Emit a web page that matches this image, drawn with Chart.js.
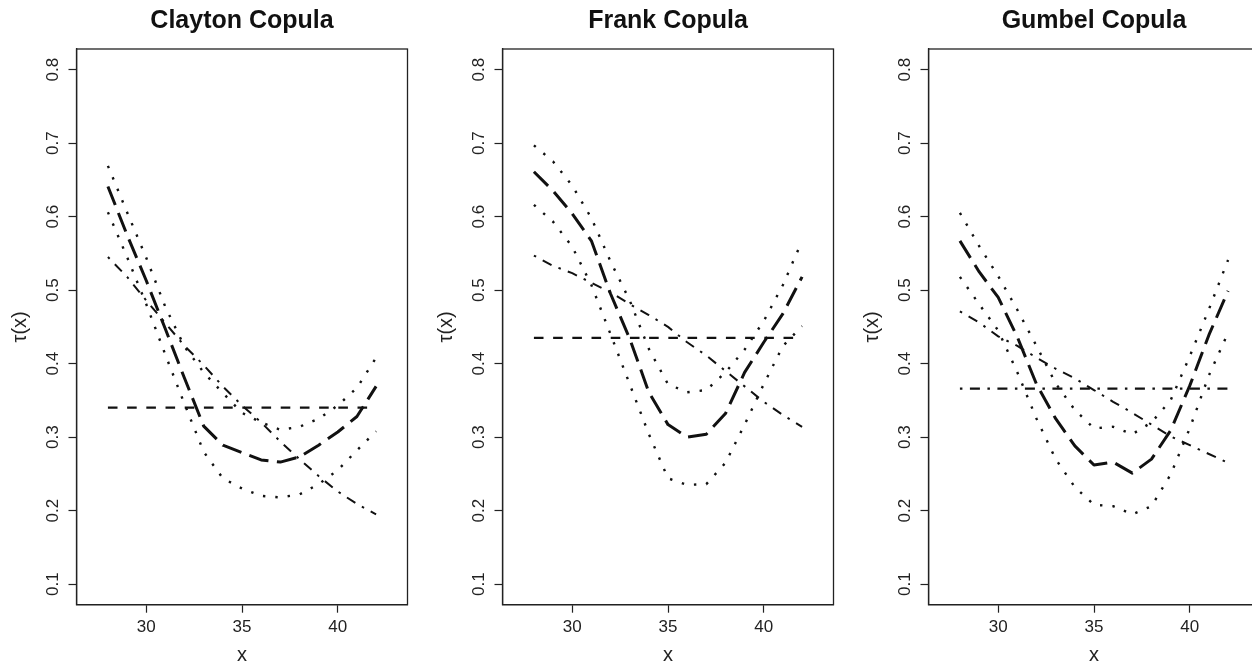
<!DOCTYPE html>
<html>
<head>
<meta charset="utf-8">
<script src="https://cdn.jsdelivr.net/npm/chart.js@4.4.1/dist/chart.umd.min.js"></script>
<style>
  html, body { margin: 0; padding: 0; background: #fff; overflow: hidden; }
  #wrap { position: relative; width: 1252px; height: 665px; overflow: hidden; }
  .panel { position: absolute; top: 0; width: 426px; height: 665px; }
</style>
</head>
<body>
<div id="wrap">
  <div class="panel" style="left:0px"><canvas id="clayton" width="426" height="665"></canvas></div>
  <div class="panel" style="left:426px"><canvas id="frank" width="426" height="665"></canvas></div>
  <div class="panel" style="left:852px"><canvas id="gumbel" width="426" height="665"></canvas></div>
</div>
<script>
// data
const xValues = [28, 29, 30, 31, 32, 33, 34, 35, 36, 37, 38, 39, 40, 41, 42];
const xTicks = [30, 35, 40];
const yTicks = [0.1, 0.2, 0.3, 0.4, 0.5, 0.6, 0.7, 0.8];
const yTickLabels = ['0.1', '0.2', '0.3', '0.4', '0.5', '0.6', '0.7', '0.8'];

const claytonEst   = [0.641, 0.575, 0.513, 0.447, 0.380, 0.315, 0.289, 0.279, 0.269, 0.266, 0.273, 0.289, 0.307, 0.328, 0.369];
const claytonUpper = [0.669, 0.606, 0.544, 0.477, 0.423, 0.388, 0.360, 0.333, 0.320, 0.310, 0.314, 0.325, 0.343, 0.367, 0.408];
const claytonLower = [0.606, 0.545, 0.481, 0.412, 0.345, 0.280, 0.244, 0.230, 0.220, 0.218, 0.222, 0.236, 0.255, 0.282, 0.308];
const claytonTrue  = [0.545, 0.518, 0.486, 0.455, 0.424, 0.398, 0.369, 0.343, 0.320, 0.294, 0.270, 0.247, 0.226, 0.209, 0.195];
const claytonConst = 0.34;

const frankEst   = [0.661, 0.635, 0.604, 0.567, 0.495, 0.434, 0.361, 0.317, 0.300, 0.304, 0.332, 0.388, 0.429, 0.468, 0.518];
const frankUpper = [0.697, 0.675, 0.642, 0.598, 0.539, 0.486, 0.420, 0.372, 0.361, 0.364, 0.388, 0.419, 0.458, 0.507, 0.567];
const frankLower = [0.616, 0.593, 0.559, 0.507, 0.440, 0.372, 0.304, 0.244, 0.235, 0.236, 0.265, 0.317, 0.372, 0.424, 0.451];
const frankTrue  = [0.547, 0.533, 0.523, 0.510, 0.497, 0.481, 0.466, 0.450, 0.429, 0.411, 0.390, 0.369, 0.348, 0.330, 0.314];
const frankConst = 0.435;

const gumbelEst   = [0.567, 0.525, 0.490, 0.436, 0.372, 0.325, 0.288, 0.262, 0.266, 0.251, 0.270, 0.309, 0.370, 0.439, 0.499];
const gumbelUpper = [0.605, 0.560, 0.519, 0.473, 0.424, 0.373, 0.337, 0.312, 0.314, 0.304, 0.320, 0.350, 0.410, 0.474, 0.541];
const gumbelLower = [0.518, 0.481, 0.445, 0.388, 0.325, 0.270, 0.232, 0.208, 0.206, 0.195, 0.206, 0.249, 0.312, 0.384, 0.442];
const gumbelTrue  = [0.471, 0.456, 0.437, 0.424, 0.408, 0.393, 0.380, 0.364, 0.348, 0.333, 0.317, 0.301, 0.289, 0.277, 0.265];
const gumbelConst = 0.366;

const ink = '#111';
const fontFamily = '"Liberation Sans", Arial, Helvetica, sans-serif';

// R style line types
const longDash = [20, 8.5];
const dotted = [2.4, 10];
const dashed = [9.6, 9.6];
const dotDash = [2.5, 7.5, 10, 7.5];

// full box round the plot region, like R's box()
const boxPlugin = {
  id: 'plotBox',
  afterDraw(chart) {
    const { ctx, chartArea: a } = chart;
    ctx.save();
    ctx.strokeStyle = '#222';
    ctx.lineWidth = 1.3;
    ctx.strokeRect(a.left, a.top, a.right - a.left, a.bottom - a.top);
    ctx.restore();
  }
};

function line(values, dash, width) {
  return {
    data: values.map((v, i) => ({ x: xValues[i], y: v })),
    borderColor: ink,
    borderWidth: width,
    borderDash: dash,
    borderJoinStyle: 'round',
    pointRadius: 0,
    tension: 0,
    fill: false
  };
}

function makePanel(id, title, est, upper, lower, truth, constVal, constDash) {
  const flat = xValues.map(() => constVal);
  new Chart(document.getElementById(id), {
    type: 'line',
    data: {
      datasets: [
        line(est, longDash, 3),
        line(upper, dotted, 2.4),
        line(lower, dotted, 2.4),
        line(truth, dotDash, 2),
        line(flat, constDash, 2.3)
      ]
    },
    options: {
      responsive: false,
      animation: false,
      layout: { padding: { left: 0, right: 18.5, top: 0, bottom: 0 } },
      plugins: {
        legend: { display: false },
        tooltip: { enabled: false },
        title: {
          display: true,
          text: title,
          fullSize: false,
          color: ink,
          font: { family: fontFamily, size: 25, weight: 'bold', lineHeight: 1.2 },
          padding: { top: 6, bottom: 13 }
        }
      },
      scales: {
        x: {
          type: 'linear',
          min: 26.36,
          max: 43.64,
          afterBuildTicks: s => { s.ticks = xTicks.map(v => ({ value: v })); },
          afterFit: s => { s.height = 60.3; },
          grid: { drawOnChartArea: false, drawTicks: true, tickLength: 8, tickColor: '#222', tickWidth: 1.2 },
          border: { display: true, color: '#222', width: 1.3 },
          ticks: { color: '#222', font: { family: fontFamily, size: 17 }, padding: 4, maxRotation: 0, autoSkip: false },
          title: { display: true, text: 'x', color: '#222', font: { family: fontFamily, size: 20, lineHeight: 1 }, padding: 0 }
        },
        y: {
          type: 'linear',
          min: 0.072,
          max: 0.828,
          afterBuildTicks: s => { s.ticks = yTicks.map(v => ({ value: v })); },
          afterFit: s => { s.width = 76.5; },
          grid: { drawOnChartArea: false, drawTicks: true, tickLength: 8, tickColor: '#222', tickWidth: 1.2 },
          border: { display: true, color: '#222', width: 1.3 },
          ticks: {
            color: '#222',
            font: { family: fontFamily, size: 17 },
            minRotation: 90,
            maxRotation: 90,
            crossAlign: 'center',
            padding: 3.4,
            autoSkip: false,
            callback: v => yTickLabels[yTicks.indexOf(v)]
          },
          title: { display: true, text: 'τ(x)', color: '#222', font: { family: fontFamily, size: 20, lineHeight: 1 }, padding: { top: 10, bottom: 0 } }
        }
      }
    },
    plugins: [boxPlugin]
  });
}

makePanel('clayton', 'Clayton Copula', claytonEst, claytonUpper, claytonLower, claytonTrue, claytonConst, dashed);
makePanel('frank', 'Frank Copula', frankEst, frankUpper, frankLower, frankTrue, frankConst, dashed);
makePanel('gumbel', 'Gumbel Copula', gumbelEst, gumbelUpper, gumbelLower, gumbelTrue, gumbelConst, dotDash);
</script>
</body>
</html>
